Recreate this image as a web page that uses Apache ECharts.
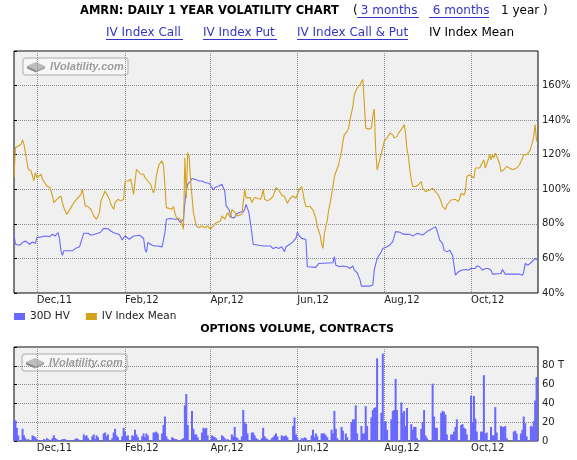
<!DOCTYPE html>
<html>
<head>
<meta charset="utf-8">
<title>AMRN volatility chart</title>
<script src="https://cdn.jsdelivr.net/npm/echarts@6/dist/echarts.min.js"></script>
<style>
html, body { margin: 0; padding: 0; background: #fff; }
#main { width: 577px; height: 460px; }
</style>
</head>
<body>
<div id="main"></div>
<script>
// x values are days counted from 2011-11-15
const tickDays = [16, 78, 138, 199, 260, 321]
const tickLabels = ['Dec,11', 'Feb,12', 'Apr,12', 'Jun,12', 'Aug,12', 'Oct,12']

// [day, %]
const ivMean = [[0,107],[1,124],[3,125],[5,126],[6,128.5],[7,126],[8,121],[10,111.6],[12,110.6],[13,109.6],[14,104.8],[15,109.6],[16,106.7],[19,108.7],[20,105.8],[21,106.7],[23,102],[25,101],[26,99],[27,96],[28,92.3],[29,93.3],[30,94.2],[33,96.1],[34,92.3],[35,89.4],[37,85.5],[40,89.4],[42,92.3],[44,94.2],[47,97.1],[48,100],[49,95.2],[50,90.4],[52,90],[54,88.4],[56,84.6],[58,82.6],[60,86.5],[61,93.3],[63,97.1],[64,99],[65,98],[67,94.2],[68,91.3],[70,88.4],[71,92.3],[73,94.2],[75,93.3],[77,94.2],[78,104.8],[79,103.9],[80,104.8],[82,105.8],[83,105.8],[84,97],[85,96],[86,111.6],[87,110.6],[89,108.7],[91,108.7],[92,106.7],[93,107.7],[94,104.8],[96,102.9],[97,100],[98,98],[99,101],[100,107.7],[101,111.6],[102,114.5],[104,116.4],[105,113.5],[106,101.9],[107,89.4],[108,90],[111,88.4],[112,90],[113,86.5],[114,83.6],[117,82.7],[118,81.7],[119,76.9],[120,118.3],[121,95],[122,121.2],[123,119],[124,105],[125,96],[126,86.5],[127,82.7],[128,78.8],[130,77.8],[132,78.8],[134,77.8],[136,78.8],[138,76.9],[140,78.8],[142,80.7],[145,81.7],[146,84.6],[148,82.7],[150,86.5],[152,83.6],[153,88.4],[155,86.5],[157,84.6],[160,85.5],[161,92.3],[162,100],[163,95.2],[166,95.2],[167,92.3],[169,95.2],[170,96.1],[173,94.2],[174,96.1],[175,100],[176,94.2],[178,93.3],[180,94.2],[182,96.1],[184,100.9],[186,99.6],[188,96.7],[190,95.8],[192,91.9],[194,94.8],[196,96.1],[198,94.8],[200,99.2],[202,101.6],[203,97.7],[204,92.9],[205,90],[208,90],[209,89.6],[210,88],[212,83.2],[213,78.3],[215,73.5],[216,68.6],[217,65.8],[218,74.5],[220,82.2],[221,88],[222,91.9],[223,96.7],[224,101.6],[225,107.4],[227,112.2],[228,114.2],[229,118.1],[230,121.9],[231,127.7],[232,131.6],[234,133.5],[235,135.4],[236,140.3],[238,148],[239,154.8],[241,158.7],[243,160.6],[244,161],[245,163.5],[246,150],[247,135.4],[249,134.8],[251,135.4],[252,142.2],[253,146.5],[254,123],[255,111.3],[256,114.2],[258,121],[259,123.9],[260,127.7],[261,126.8],[262,129.7],[264,132.5],[266,131.6],[267,129.6],[269,130.6],[270,132.5],[272,134.5],[274,137.4],[275,132.5],[276,122.9],[277,119],[278,111.2],[279,105.4],[280,101.6],[282,101.6],[284,102.5],[285,103.5],[286,104.5],[287,100.6],[289,98.7],[290,98.7],[292,99.6],[294,100.6],[295,101.6],[296,98.7],[298,96.7],[299,94.8],[300,92.9],[301,90],[303,88.4],[304,90.9],[305,91.9],[307,93.8],[310,94.2],[312,92.9],[313,94.8],[314,97.7],[316,96.7],[317,98.7],[318,107.4],[319,106.5],[320,108.4],[321,107.4],[323,106.5],[324,112.3],[325,111.3],[327,112.3],[328,113.2],[330,117.1],[331,112.3],[332,111.3],[333,117.1],[334,120],[335,117.1],[336,120],[337,118.1],[338,120.9],[339,119],[341,115.1],[342,110.3],[344,111.3],[346,113.2],[348,112.3],[350,111.3],[351,111.3],[353,112.3],[354,113.2],[355,114.2],[356,116.1],[358,120],[359,120.9],[360,120],[362,121.9],[363,123.9],[364,126.8],[365,130.6],[366,137.4],[367,127.7]]

const hv30 = [[0,74],[1,68.2],[4,67.6],[6,69.2],[8,70.1],[11,68.2],[13,69.5],[15,68.6],[16,72],[20,72.6],[22,73],[25,72.6],[27,74],[29,73],[31,75],[32,71.1],[33,64.4],[34,61.8],[35,64.4],[41,64.4],[43,65.7],[46,66.7],[47,67.2],[49,74.6],[52,74.6],[54,73.4],[56,73.8],[59,74.6],[61,75.3],[63,77.4],[66,77.2],[68,75.9],[70,74.9],[74,73.8],[76,70.7],[78,73],[81,71.1],[82,71.7],[84,73],[88,73.4],[91,71.7],[92,65.3],[93,63.5],[94,69.2],[95,68.8],[97,67.6],[99,67.2],[101,67.2],[104,66.7],[105,66.3],[106,75],[107,82.7],[110,83.1],[113,82.7],[115,82.7],[117,80.7],[118,80.7],[119,82.7],[120,92.3],[121,99],[122,102.9],[124,104.8],[125,106.2],[127,105.8],[130,104.8],[132,104.8],[134,103.9],[137,103.5],[139,101],[140,99.6],[141,101],[144,101.9],[146,102.9],[147,103.9],[148,99],[149,90.4],[151,88.4],[152,85.5],[153,83.6],[155,83.6],[156,85.5],[159,86.9],[161,86.9],[162,88.4],[163,91.3],[165,86.5],[166,80.7],[167,75],[168,68.2],[169,67.6],[172,67.6],[176,67.2],[180,67.2],[182,65.7],[184,66.5],[186,65.8],[188,66.8],[190,63.9],[191,66.8],[194,68.3],[196,69.7],[198,71.7],[199,75.1],[200,73.5],[202,71.6],[205,71],[206,55.2],[212,54.8],[214,57.1],[224,57.5],[225,61],[226,56.1],[229,55.2],[231,55.6],[234,55.2],[236,54.2],[238,55.6],[239,53.2],[241,51.7],[243,47.6],[244,44],[250,44],[252,44.6],[253,53.2],[255,60],[256,61],[258,63.9],[259,65.8],[262,66.8],[264,67.8],[266,69.7],[268,75.5],[271,75.1],[273,74.2],[275,73.9],[278,73.9],[280,72.9],[283,74.5],[285,74.1],[287,73.5],[290,75.5],[292,76.4],[294,77.4],[296,78.4],[297,76.4],[299,70.6],[301,68.6],[302,64.8],[304,63.8],[306,64.8],[307,63.8],[308,61.8],[309,60.9],[310,50.3],[312,52.2],[314,53.2],[317,53.6],[319,53.2],[321,54.2],[324,54.2],[325,55.6],[327,55.2],[329,53.2],[331,54.2],[333,54.2],[335,53.2],[336,50.9],[342,51.3],[343,53.6],[345,50.9],[355,50.9],[357,50.3],[358,52.2],[359,57.1],[361,56.1],[363,57.5],[364,58.1],[366,60],[367,59]]

// options volume, thousands of contracts, one value per weekday from 2011-11-15 (market holidays = 0)
const volume = [
  22, 22, 14, 6,
  13, 6, 3, 0, 2,   6, 5, 4, 2, 1,   1, 2, 1, 3, 2,   3, 6, 3, 2, 1,   2, 2, 2, 1, 1,
  0, 1, 2, 3, 2,    0, 7, 5, 6, 3,   5, 7, 2, 6, 4,   0, 8, 9, 5, 7,   3, 9, 13, 6, 4,
  5, 14, 10, 5, 6,  6, 5, 12, 7, 4,  5, 8, 4, 8, 6,   0, 9, 9, 10, 8,  8, 17, 26, 5, 2,
  4, 3, 2, 2, 1,    2, 3, 38, 50, 17, 32, 13, 7, 7, 4, 9, 14, 13, 14, 6, 6, 5, 4, 3, 0,
  6, 5, 3, 1, 2,    7, 5, 15, 4, 3,  5, 33, 20, 18, 8, 9, 9, 6, 3, 2,  3, 14, 5, 3, 2,
  3, 4, 6, 8, 5,    6, 5, 5, 6, 4,   0, 16, 25, 7, 4, 3, 2, 4, 3, 1,   6, 12, 4, 8, 5,
  8, 8, 8, 6, 4,    12, 8, 32, 13, 3, 15, 11, 0, 8, 4, 20, 23, 23, 38, 8, 16, 8, 8, 37, 16,
  25, 33, 35, 36, 88, 30, 93, 20, 21, 12, 23, 32, 33, 66, 33, 41, 30, 32, 16, 35,
  18, 12, 15, 15, 3, 13, 20, 33, 6, 3, 0, 61, 26, 14, 14, 30, 32, 31, 28, 7,
  7, 7, 10, 15, 23, 17, 18, 14, 13, 7, 48, 20, 48, 24, 10, 10, 10, 70, 8, 9,
  15, 6, 6, 36, 9,  16, 15, 15, 16, 3, 0, 0, 10, 11, 8,  8, 12, 26, 19, 5,
  16, 15, 21, 43, 68
]

// weekday calendar for the volume bars (2011-11-15 was a Tuesday)
const volDays = []
for (let d = 0; volDays.length < volume.length; d++) {
  if ((d + 1) % 7 < 5) volDays.push(d)
}

const FONT = '"DejaVu Sans", sans-serif'
const BLUE = '#6868FF'
const GOLD = '#D3A11C'
const LINK = '#3434C8'

const chart = echarts.init(document.getElementById('main'))

function txt(x, y, text, font, fill, align) {
  return { type: 'text', x: x, y: y, silent: true,
    style: { text: text, font: font, fill: fill, align: align || 'left', verticalAlign: 'middle' } }
}
function uline(x1, x2, y) {
  return { type: 'line', silent: true, shape: { x1: x1, y1: y + 0.5, x2: x2, y2: y + 0.5 },
    style: { stroke: LINK, lineWidth: 1 } }
}
// IVolatility.com watermark
function logo(x, y) {
  return { type: 'group', x: x, y: y, silent: true, z: 5, children: [
    { type: 'rect', shape: { x: 0, y: 0, width: 105, height: 17, r: 3 },
      style: { fill: '#f7f7f7', stroke: '#c4c4c4', lineWidth: 1.5 } },
    { type: 'polygon', shape: { points: [[4, 8], [13, 4], [22, 8], [13, 12]] }, style: { fill: '#bdbdbd' } },
    { type: 'polygon', shape: { points: [[4, 8], [13, 12], [13, 14.5], [4, 10.5]] }, style: { fill: '#8e8e8e' } },
    { type: 'polygon', shape: { points: [[13, 12], [22, 8], [22, 10.5], [13, 14.5]] }, style: { fill: '#a6a6a6' } },
    { type: 'text', x: 27, y: 8.5, style: { text: 'IVolatility.com', font: 'italic bold 11px "Liberation Sans"',
      fill: '#9c9c9c', verticalAlign: 'middle' } }
  ] }
}

const gridLine = { show: true, lineStyle: { type: 'dotted', color: '#8c8c8c', width: 1 } }

function xAxisFor(gridIndex) {
  return {
    type: 'value', gridIndex: gridIndex, min: 0, max: 368,
    axisLine: { show: false },
    axisTick: { show: false, customValues: tickDays },
    axisLabel: {
      customValues: tickDays, align: 'left', margin: 2,
      fontFamily: FONT, fontSize: 10, color: '#222',
      formatter: function (v) { return tickLabels[tickDays.indexOf(v)] }
    },
    splitLine: gridLine
  }
}

const option = {
  animation: false,
  backgroundColor: '#fff',
  textStyle: { fontFamily: FONT },
  grid: [
    { left: 14, top: 51, width: 524, height: 242, show: true, backgroundColor: '#f0f0f0',
      borderColor: '#000', borderWidth: 1 },
    { left: 14, top: 347, width: 524, height: 94, show: true, backgroundColor: '#f0f0f0',
      borderColor: '#000', borderWidth: 1 }
  ],
  xAxis: [xAxisFor(0), xAxisFor(1)],
  yAxis: [
    {
      type: 'value', gridIndex: 0, position: 'right', min: 40, max: 180, interval: 20,
      axisLine: { show: false },
      axisTick: { show: true, length: 3, lineStyle: { color: '#000' } },
      axisLabel: { margin: 4, fontFamily: FONT, fontSize: 10, color: '#222', padding: [0, 0, 7, 0],
        formatter: function (v) { return v >= 180 ? '' : v + '%' } },
      splitLine: gridLine
    },
    {
      type: 'value', gridIndex: 1, position: 'right', min: 0, max: 100, interval: 20,
      axisLine: { show: false },
      axisTick: { show: true, length: 3, lineStyle: { color: '#000' } },
      axisLabel: { margin: 4, fontFamily: FONT, fontSize: 10, color: '#222', padding: [0, 0, 8, 0],
        formatter: function (v) { return v >= 100 ? '' : (v === 80 ? '80 T' : String(v)) } },
      splitLine: gridLine
    }
  ],
  legend: {
    left: 14, top: 311, padding: 0, icon: 'rect', itemWidth: 11, itemHeight: 7, itemGap: 16,
    data: ['30D HV', 'IV Index Mean'],
    textStyle: { fontFamily: FONT, fontSize: 10.5, color: '#222' }
  },
  series: [
    {
      name: '30D HV', type: 'line', xAxisIndex: 0, yAxisIndex: 0,
      showSymbol: false, data: hv30, color: BLUE,
      lineStyle: { width: 1.1, color: BLUE }
    },
    {
      name: 'IV Index Mean', type: 'line', xAxisIndex: 0, yAxisIndex: 0,
      showSymbol: false, data: ivMean, color: GOLD,
      lineStyle: { width: 1.1, color: GOLD }
    },
    {
      name: 'Volume', type: 'bar', xAxisIndex: 1, yAxisIndex: 1,
      barWidth: 2, color: BLUE,
      data: volume.map(function (v, i) { return [volDays[i], v] })
    }
  ],
  graphic: [
    txt(80, 11, 'AMRN: DAILY 1 YEAR VOLATILITY CHART', 'bold 11.5px ' + FONT, '#000'),
    txt(353, 11, '(', '12px ' + FONT, '#000'),
    txt(357, 11, ' 3 months', '12px ' + FONT, LINK), uline(357, 419, 17),
    txt(429, 11, ' 6 months', '12px ' + FONT, LINK), uline(429, 489, 17),
    txt(501, 11, '1 year )', '12px ' + FONT, '#000'),
    txt(106, 33, 'IV Index Call', '12px ' + FONT, LINK), uline(106, 183, 39),
    txt(203, 33, 'IV Index Put', '12px ' + FONT, LINK), uline(203, 277, 39),
    txt(297, 33, 'IV Index Call & Put', '12px ' + FONT, LINK), uline(297, 408, 39),
    txt(429, 33, 'IV Index Mean', '12px ' + FONT, '#000'),
    txt(297, 329, 'OPTIONS VOLUME, CONTRACTS', 'bold 11px ' + FONT, '#000', 'center'),
    logo(23, 58),
    logo(22, 354)
  ]
}

chart.setOption(option)
</script>
</body>
</html>
